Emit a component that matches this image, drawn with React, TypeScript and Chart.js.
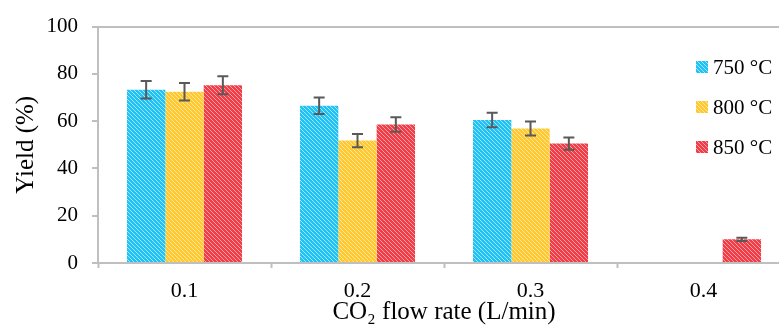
import React, { useEffect, useRef } from "react";
import { Chart, registerables } from "chart.js";

Chart.register(...registerables);

const categories = ["0.1", "0.2", "0.3", "0.4"];
const seriesLabels = ["750 °C", "800 °C", "850 °C"];
const yield750 = [73.3, 66.5, 60.5, null];
const yield800 = [72.4, 51.8, 56.9, null];
const yield850 = [75.2, 58.6, 50.5, 10.0];
const err750 = [3.7, 3.5, 3.1, 0];
const err800 = [3.7, 2.8, 3.0, 0];
const err850 = [3.8, 3.1, 2.6, 0.7];
const yTicks = [0, 20, 40, 60, 80, 100];

const FONT = '"Liberation Serif", "Times New Roman", serif';

function makePattern(base: string, stripe: string): CanvasPattern | string {
  const c = document.createElement("canvas");
  c.width = 4;
  c.height = 4;
  const g = c.getContext("2d");
  if (!g) return base;
  g.fillStyle = base;
  g.fillRect(0, 0, 4, 4);
  g.fillStyle = stripe;
  for (let i = 0; i < 4; i++) g.fillRect(i, i, 1, 1);
  const p = g.createPattern(c, "repeat");
  return p || base;
}

export default function App() {
  const ref = useRef<HTMLCanvasElement | null>(null);

  useEffect(() => {
    if (!ref.current) return;
    const fills = [
      makePattern("#1fc2f2", "#a0e6fb"),
      makePattern("#ffc82e", "#ffe7a0"),
      makePattern("#ef3e48", "#f8a0a5"),
    ];
    const errors = [err750, err800, err850];

    const errorBars = {
      id: "errorBars",
      afterDatasetsDraw(chart: any) {
        const ctx = chart.ctx;
        const y = chart.scales.y;
        ctx.save();
        ctx.strokeStyle = "#595959";
        ctx.lineWidth = 2;
        chart.data.datasets.forEach((ds: any, di: number) => {
          const meta = chart.getDatasetMeta(di);
          meta.data.forEach((el: any, i: number) => {
            const v = ds.data[i];
            const e = errors[di][i];
            if (v == null || !e) return;
            const x = el.x;
            const t = y.getPixelForValue(v + e);
            const b = y.getPixelForValue(v - e);
            const cap = 5.5;
            ctx.beginPath();
            ctx.moveTo(x, t);
            ctx.lineTo(x, b);
            ctx.moveTo(x - cap, t);
            ctx.lineTo(x + cap, t);
            ctx.moveTo(x - cap, b);
            ctx.lineTo(x + cap, b);
            ctx.stroke();
          });
        });
        ctx.restore();
      },
    };

    const legendPlugin = {
      id: "customLegend",
      afterDraw(chart: any) {
        const ctx = chart.ctx;
        ctx.save();
        const ys = [67, 107, 147];
        seriesLabels.forEach((lab, i) => {
          ctx.fillStyle = fills[i];
          ctx.fillRect(696, ys[i] - 6, 12, 12);
          ctx.fillStyle = "#000";
          ctx.font = `21px ${FONT}`;
          ctx.textBaseline = "middle";
          ctx.textAlign = "left";
          ctx.fillText(lab, 713, ys[i] + 1);
        });
        ctx.restore();
      },
    };

    const chart = new Chart(ref.current, {
      type: "bar",
      data: {
        labels: categories,
        datasets: [
          { label: seriesLabels[0], data: yield750, backgroundColor: fills[0] as any, borderWidth: 0 },
          { label: seriesLabels[1], data: yield800, backgroundColor: fills[1] as any, borderWidth: 0 },
          { label: seriesLabels[2], data: yield850, backgroundColor: fills[2] as any, borderWidth: 0 },
        ],
      },
      options: {
        responsive: false,
        animation: false,
        layout: { padding: { left: 0, right: 10, top: 24, bottom: 0 } },
        plugins: {
          legend: { display: false },
          tooltip: { enabled: false },
        },
        datasets: { bar: { barPercentage: 1, categoryPercentage: 0.665 } },
        scales: {
          x: {
            grid: {
              offset: true,
              drawOnChartArea: false,
              drawTicks: true,
              tickLength: 5,
              tickColor: "#bfbfbf",
              tickWidth: 2,
            },
            border: { display: true, color: "#bfbfbf", width: 2 },
            ticks: {
              color: "#000",
              font: { family: FONT, size: 22 },
              padding: 10,
            },
            title: {
              display: true,
              text: "CO₂ flow rate (L/min)",
              color: "#000",
              font: { family: FONT, size: 25, lineHeight: 1.2 },
              padding: { top: 0, bottom: 0 },
            },
            afterFit(s: any) {
              s.height = 64;
            },
          },
          y: {
            min: 0,
            max: 100,
            afterBuildTicks(s: any) {
              s.ticks = yTicks.map((v) => ({ value: v }));
            },
            grid: {
              drawOnChartArea: true,
              color: (c: any) => (c.tick && c.tick.value === 100 ? "#bfbfbf" : "rgba(0,0,0,0)"),
              lineWidth: 2,
              drawTicks: true,
              tickLength: 6,
              tickColor: "#bfbfbf",
              tickWidth: 2,
            },
            border: { display: true, color: "#bfbfbf", width: 2 },
            ticks: {
              color: "#000",
              font: { family: FONT, size: 21 },
              padding: 14,
            },
            title: {
              display: true,
              text: "Yield (%)",
              color: "#000",
              font: { family: FONT, size: 25, lineHeight: 1.2 },
              padding: { top: 11, bottom: 0 },
            },
            afterFit(s: any) {
              s.width = 98;
            },
          },
        },
      },
      plugins: [errorBars, legendPlugin],
    });
    return () => chart.destroy();
  }, []);

  return (
    <div
      style={{
        position: "fixed",
        left: 0,
        top: 0,
        width: 779,
        height: 327,
        overflow: "hidden",
        background: "#fff",
      }}
    >
      <canvas ref={ref} width={800} height={327} style={{ display: "block" }} />
    </div>
  );
}
